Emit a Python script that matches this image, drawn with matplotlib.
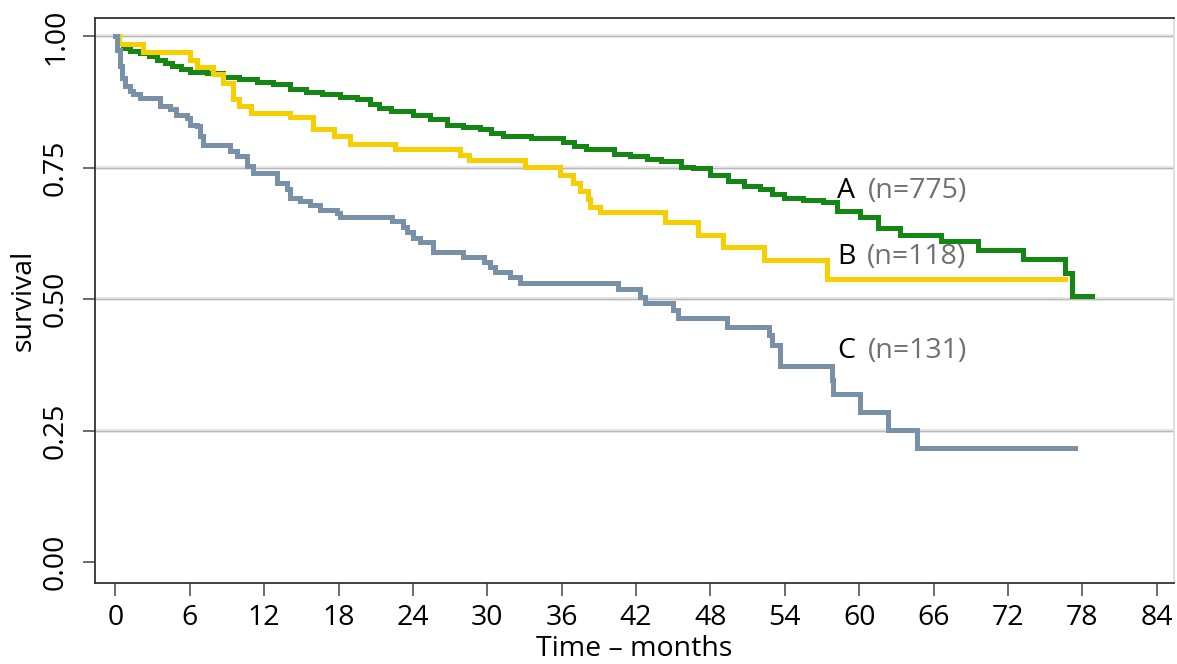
import matplotlib
matplotlib.use("Agg")
import matplotlib.pyplot as plt

# ---- data ----
t_A = [0, 0.3, 0.6, 1.2, 2.0, 2.7, 3.35, 4.0, 4.6, 5.3, 6.0, 7.4, 8.7, 10.0, 11.4, 12.7,
       14.1, 15.4, 16.7, 18.1, 19.5, 20.5, 21.3, 22.2, 24.0, 25.4, 26.75, 28.0, 29.4, 30.3,
       31.3, 33.5, 36.1, 37.0, 38.0, 40.2, 41.5, 42.9, 44.0, 45.6, 46.6, 48.0, 49.4, 50.7,
       52.0, 53.0, 53.9, 55.5, 57.1, 58.2, 60.1, 61.5, 63.3, 66.6, 69.6, 73.2, 76.6, 77.2, 78.8]
s_A = [1.0, 0.985, 0.977, 0.972, 0.968, 0.962, 0.956, 0.95, 0.943, 0.938, 0.933, 0.93, 0.922,
       0.918, 0.914, 0.909, 0.899, 0.894, 0.89, 0.885, 0.88, 0.872, 0.863, 0.859, 0.851, 0.842,
       0.832, 0.828, 0.823, 0.816, 0.81, 0.806, 0.80, 0.792, 0.785, 0.777, 0.772, 0.766, 0.762,
       0.752, 0.749, 0.737, 0.724, 0.716, 0.709, 0.70, 0.693, 0.688, 0.684, 0.667, 0.657, 0.636,
       0.623, 0.611, 0.593, 0.577, 0.549, 0.506, 0.506]

t_B = [0, 0.3, 2.2, 6.0, 6.6, 7.9, 8.7, 9.5, 10.0, 10.9, 14.1, 15.9, 17.6, 18.9, 22.56, 27.8,
       28.5, 33.05, 35.9, 36.9, 37.5, 38.1, 38.3, 39.1, 44.3, 47.0, 49.0, 52.3, 57.4, 76.6]
s_B = [1.0, 0.985, 0.971, 0.956, 0.941, 0.928, 0.912, 0.88, 0.867, 0.855, 0.846, 0.823, 0.81,
       0.796, 0.785, 0.775, 0.764, 0.752, 0.737, 0.722, 0.705, 0.69, 0.676, 0.665, 0.646, 0.623,
       0.60, 0.575, 0.539, 0.539]

t_C = [0, 0.1, 0.36, 0.5, 0.77, 1.17, 1.44, 2.0, 3.6, 4.4, 4.9, 5.75, 6.0, 6.55, 6.8, 7.1,
       9.24, 9.8, 10.6, 11.1, 13.0, 13.8, 14.1, 14.9, 15.7, 16.5, 17.85, 18.1, 22.3, 23.2, 23.5,
       24.0, 24.6, 25.6, 28.0, 29.7, 30.2, 30.6, 31.8, 32.65, 40.55, 42.3, 42.7, 45.0, 45.4,
       49.35, 52.7, 53.0, 53.6, 57.8, 57.9, 60.1, 62.3, 64.7, 77.4]
s_C = [1.0, 0.975, 0.943, 0.921, 0.905, 0.896, 0.89, 0.883, 0.867, 0.861, 0.851, 0.845, 0.832,
       0.829, 0.81, 0.794, 0.782, 0.772, 0.753, 0.741, 0.721, 0.709, 0.693, 0.686, 0.68, 0.67,
       0.664, 0.657, 0.648, 0.638, 0.627, 0.617, 0.608, 0.59, 0.581, 0.571, 0.562, 0.552, 0.543,
       0.531, 0.52, 0.505, 0.493, 0.48, 0.465, 0.448, 0.432, 0.413, 0.373, 0.347, 0.32, 0.286,
       0.251, 0.217, 0.217]

groups = ["A", "B", "C"]
counts = ["(n=775)", "(n=118)", "(n=131)"]
x_ticks = list(range(0, 85, 6))
y_ticks = [0.0, 0.25, 0.5, 0.75, 1.0]
y_tick_labels = ["0.00", "0.25", "0.50", "0.75", "1.00"]

# ---- styling ----
FONT = "Open Sans"
plt.rcParams["font.family"] = [FONT, "DejaVu Sans"]
FS = 20.5

fig = plt.figure(figsize=(11.77, 6.64), dpi=100)
ax = fig.add_axes([95 / 1177, 1 - 583 / 664, (1174 - 95) / 1177, (583 - 18) / 664])

ax.set_xlim(-1.65, 85.4)
ax.set_ylim(-0.04, 1.035)

for yv in [0.25, 0.5, 0.75, 1.0]:
    ax.axhline(yv, color="#e2e2e2", lw=2.6, zorder=1)
    ax.axhline(yv, color="#b9b9b9", lw=0.8, zorder=1.1)

colors = ["#138613", "#f7cf00", "#7890a8"]
for t, s, c, z in [(t_A, s_A, colors[0], 3), (t_B, s_B, colors[1], 4), (t_C, s_C, colors[2], 5)]:
    ax.step(t, s, where="post", color=c, lw=3.6, zorder=z, solid_joinstyle="miter")

label_pos = [(58.2, 0.705, 60.7), (58.2, 0.581, 60.6), (58.2, 0.402, 60.7)]
for (xl, yl, xn), g, n in zip(label_pos, groups, counts):
    ax.text(xl, yl, g, color="black", fontsize=FS, ha="left", va="center")
    ax.text(xn, yl, n, color="#707070", fontsize=FS, ha="left", va="center")

ax.set_xticks(x_ticks)
ax.set_xticklabels([str(v) for v in x_ticks])
ax.set_yticks(y_ticks)
ax.set_yticklabels(y_tick_labels, rotation=90, va="center")
ax.tick_params(axis="both", direction="out", length=9, width=1.1, color="#444444",
               labelsize=FS)
ax.tick_params(axis="x", pad=6)
ax.tick_params(axis="y", pad=9)

for side in ["left", "bottom", "top"]:
    ax.spines[side].set_color("#333333")
    ax.spines[side].set_linewidth(1.3)
ax.spines["right"].set_color("#dddddd")
ax.spines["right"].set_linewidth(1.3)

ax.set_xlabel("Time – months", fontsize=FS, labelpad=2)
ax.set_ylabel("survival", fontsize=FS, labelpad=3)

fig.savefig("out.png", dpi=100)
